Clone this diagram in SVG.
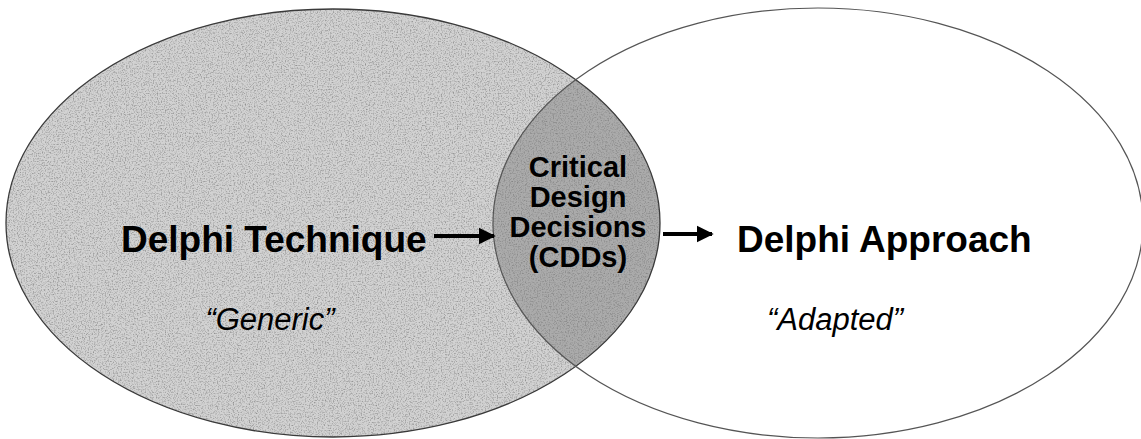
<svg xmlns="http://www.w3.org/2000/svg" width="1141" height="439" viewBox="0 0 1141 439">
  <style>
    .title { font-family: "Liberation Sans", Arial, sans-serif; font-weight: bold; font-size: 37px; fill: #000; }
    .cdd { font-family: "Liberation Sans", Arial, sans-serif; font-weight: bold; font-size: 29px; fill: #000; text-anchor: middle; }
    .tag { font-family: "Liberation Sans", Arial, sans-serif; font-style: italic; font-size: 31px; fill: #000; text-anchor: middle; }
    .outline { fill: none; stroke: #3a3a3a; stroke-width: 1.3; }
    .outline-light { fill: none; stroke: #555; stroke-width: 1.2; }
    .shaft { stroke: #000; stroke-width: 4; fill: none; }
  </style>
  <defs>
    <ellipse id="leftShape" cx="333" cy="223" rx="327" ry="214"/>
    <ellipse id="rightShape" cx="818" cy="223" rx="325" ry="215"/>
    <clipPath id="clipRight">
      <use href="#rightShape"/>
    </clipPath>
    <!-- speckled grain laid over the shaded fills -->
    <filter id="grain" x="0" y="0" width="100%" height="100%">
      <feTurbulence type="fractalNoise" baseFrequency="0.75" numOctaves="2" seed="7" result="noise"/>
      <feColorMatrix in="noise" type="matrix" values="0 0 0 0 0  0 0 0 0 0  0 0 0 0 0  0 0 0 -2.4 1.3" result="dots"/>
      <feComposite in="dots" in2="SourceGraphic" operator="in"/>
    </filter>
    <marker id="arrowHead" viewBox="0 0 10 10" refX="9" refY="5" markerWidth="4.3" markerHeight="4.3" orient="auto" markerUnits="strokeWidth">
      <path d="M0,0 L10,5 L0,10 z" fill="#000"/>
    </marker>
  </defs>

  <!-- Delphi Technique: the generic method -->
  <g id="node-technique">
    <use href="#leftShape" fill="#d2d2d2"/>
    <use href="#leftShape" fill="#000" filter="url(#grain)" opacity="0.3"/>
    <text class="title" x="121" y="252">Delphi Technique</text>
    <text class="tag" x="270" y="330">“Generic”</text>
  </g>

  <!-- Critical Design Decisions: overlap of both methods -->
  <g id="node-cdd">
    <g clip-path="url(#clipRight)">
      <use href="#leftShape" fill="#ababab"/>
      <use href="#leftShape" fill="#000" filter="url(#grain)" opacity="0.22"/>
    </g>
    <use href="#leftShape" class="outline"/>
    <text class="cdd" x="578" y="177">Critical</text>
    <text class="cdd" x="578" y="207">Design</text>
    <text class="cdd" x="578" y="237">Decisions</text>
    <text class="cdd" x="578" y="267">(CDDs)</text>
  </g>

  <!-- Delphi Approach: the adapted method -->
  <g id="node-approach">
    <use href="#rightShape" class="outline-light"/>
    <text class="title" x="737" y="252">Delphi Approach</text>
    <text class="tag" x="835" y="330">“Adapted”</text>
  </g>

  <g id="connectors">
    <line class="shaft" x1="434" y1="236" x2="494" y2="236" marker-end="url(#arrowHead)"/>
    <line class="shaft" x1="663" y1="234" x2="712" y2="234" marker-end="url(#arrowHead)"/>
  </g>
</svg>
